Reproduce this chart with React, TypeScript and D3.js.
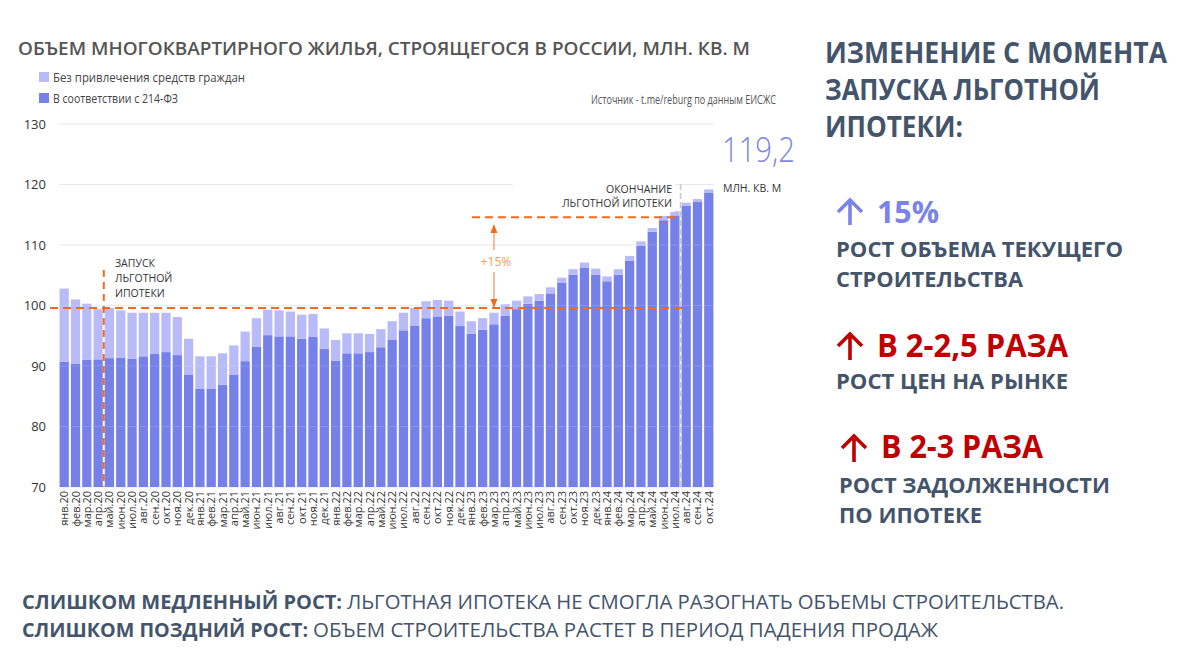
import React from 'react';
import * as d3 from 'd3';

const months = [
    'янв.20', 'фев.20', 'мар.20', 'апр.20', 'май.20', 'июн.20', 'июл.20', 'авг.20', 'сен.20', 'окт.20', 'ноя.20', 'дек.20',
    'янв.21', 'фев.21', 'мар.21', 'апр.21', 'май.21', 'июн.21', 'июл.21', 'авг.21', 'сен.21', 'окт.21', 'ноя.21', 'дек.21',
    'янв.22', 'фев.22', 'мар.22', 'апр.22', 'май.22', 'июн.22', 'июл.22', 'авг.22', 'сен.22', 'окт.22', 'ноя.22', 'дек.22',
    'янв.23', 'фев.23', 'мар.23', 'апр.23', 'май.23', 'июн.23', 'июл.23', 'авг.23', 'сен.23', 'окт.23', 'ноя.23', 'дек.23',
    'янв.24', 'фев.24', 'мар.24', 'апр.24', 'май.24', 'июн.24', 'июл.24', 'авг.24', 'сен.24', 'окт.24'
];

// total volume (both parts), mln sq m
const totalVolume = [
    102.8, 101.0, 100.3, 99.4, 99.6, 99.2, 98.8, 98.8, 98.8, 98.8, 98.1, 94.5,
    91.6, 91.6, 92.1, 93.4, 95.7, 97.9, 99.3, 99.2, 99.0, 98.5, 98.6, 96.2,
    94.3, 95.4, 95.4, 95.3, 96.1, 97.4, 98.8, 99.6, 100.7, 100.9, 100.8, 99.0,
    97.4, 97.9, 98.8, 100.2, 100.8, 101.5, 101.9, 103.0, 104.6, 106.0, 107.1, 106.1,
    104.8, 106.0, 108.2, 110.6, 112.8, 114.8, 115.6, 117.0, 117.6, 119.2
];

// part under 214-ФЗ
const law214 = [
    90.7, 90.4, 91.0, 91.1, 91.3, 91.4, 91.2, 91.6, 92.0, 92.3, 91.8, 88.6,
    86.2, 86.2, 86.9, 88.6, 90.8, 93.2, 95.1, 94.9, 94.9, 94.5, 94.8, 92.8,
    90.9, 92.1, 92.1, 92.3, 93.1, 94.3, 95.9, 96.7, 97.9, 98.2, 98.3, 96.6,
    95.3, 96.0, 96.9, 98.3, 99.4, 100.3, 100.8, 102.0, 103.8, 105.1, 106.2, 105.1,
    104.0, 105.1, 107.4, 109.9, 112.2, 114.1, 114.9, 116.5, 117.1, 118.6
];

const yTicks = [70, 80, 90, 100, 110, 120, 130];

const launchMonth = 'май.20';
const endMonth = 'авг.24';
const arrowMonth = 'мар.23';
const baseLevel = 99.6;
const growthLevel = 114.6;

const DARK = '#7580e8';
const LIGHT = '#b9bbf8';
const ORANGE = '#f26b1d';
const SLATE = '#44546a';
const RED = '#c00000';

const W = 1200;
const H = 662;

// thin up arrow drawn as a path (the glyph in the fonts is too small)
const UpArrow = ({ cx, top, bottom, color }: { cx: number; top: number; bottom: number; color: string }) => (
    <path
        d={`M${cx},${bottom} V${top + 1} M${cx - 12},${top + 12} L${cx},${top} L${cx + 12},${top + 12}`}
        fill="none" stroke={color} strokeWidth={3.6} strokeLinejoin="miter"
    />
);

export default function App() {
    const x = d3.scaleBand<string>()
        .domain(months)
        .range([59, 714])
        .paddingInner(0.18)
        .paddingOuter(0.05);

    const y = d3.scaleLinear().domain([70, 130]).range([487, 124]);

    const bw = x.bandwidth();
    const gap = x.step() - bw;
    const launchX = (x(launchMonth) ?? 0) - gap / 2;
    const endX = (x(endMonth) ?? 0) - gap / 2;
    const arrowX = (x(arrowMonth) ?? 0) + bw / 2;

    const font = '"Open Sans", "Noto Sans", sans-serif';

    return (
        <svg width={W} height={H} style={{ position: 'fixed', left: 0, top: 0, background: '#fff' }} fontFamily={font}>
            <defs>
                <marker id="arr" viewBox="0 0 10 10" refX="9" refY="5" markerWidth="7" markerHeight="7" orient="auto-start-reverse">
                    <path d="M0,1 L10,5 L0,9 Z" fill={ORANGE} />
                </marker>
            </defs>

            {/* title + legend */}
            <text x={18} y={55} fontSize={18.5} fontWeight={600} fill="#555" textLength={732} lengthAdjust="spacingAndGlyphs">
                ОБЪЕМ МНОГОКВАРТИРНОГО ЖИЛЬЯ, СТРОЯЩЕГОСЯ В РОССИИ, МЛН. КВ. М
            </text>
            <rect x={39} y={72} width={10} height={10} fill={LIGHT} />
            <text x={53} y={82} fontSize={13} fill="#444" textLength={192} lengthAdjust="spacingAndGlyphs">Без привлечения средств граждан</text>
            <rect x={39} y={93} width={10} height={10} fill={DARK} />
            <text x={53} y={103} fontSize={13} fill="#444" textLength={125} lengthAdjust="spacingAndGlyphs">В соответствии с 214-ФЗ</text>
            <text x={591} y={104} fontSize={12} fill="#555" textLength={185} lengthAdjust="spacingAndGlyphs">Источник - t.me/reburg по данным ЕИСЖС</text>

            {/* grid + y ticks */}
            {yTicks.map(t => (
                <g key={t}>
                    <line x1={59} x2={714} y1={y(t)} y2={y(t)} stroke="#e6e6e6" strokeWidth={1} />
                    <text x={46} y={y(t) + 4.5} fontSize={13} fill="#333" textAnchor="end">{t}</text>
                </g>
            ))}

            {/* bars */}
            {months.map((m, i) => (
                <g key={m}>
                    <rect x={x(m)} y={y(law214[i])} width={bw} height={y(70) - y(law214[i])} fill={DARK} />
                    <rect x={x(m)} y={y(totalVolume[i])} width={bw} height={y(law214[i]) - y(totalVolume[i])} fill={LIGHT} />
                </g>
            ))}
            {yTicks.slice(1, -1).map(t => (
                <line key={'o' + t} x1={59} x2={714} y1={y(t)} y2={y(t)} stroke="#fff" strokeOpacity={0.15} />
            ))}

            {/* x labels */}
            {months.map(m => (
                <text key={'l' + m} transform={`translate(${(x(m) ?? 0) + bw / 2 + 4},491) rotate(-90)`}
                    fontSize={11} fill="#333" textAnchor="end">{m}</text>
            ))}

            {/* launch annotation */}
            <line x1={launchX} x2={launchX} y1={270} y2={y(70)} stroke={ORANGE} strokeWidth={2} strokeDasharray="7 5" />
            <text x={115} y={267} fontSize={10.5} fill="#333">ЗАПУСК</text>
            <text x={115} y={282} fontSize={10.5} fill="#333">ЛЬГОТНОЙ</text>
            <text x={115} y={297} fontSize={10.5} fill="#333">ИПОТЕКИ</text>
            <line x1={50} x2={683} y1={y(baseLevel)} y2={y(baseLevel)} stroke={ORANGE} strokeWidth={2} strokeDasharray="8 5" />

            {/* end annotation */}
            <rect x={513} y={178} width={162} height={34} fill="#fff" />
            <line x1={endX} x2={endX} y1={184} y2={y(70)} stroke="#c8c8c8" strokeWidth={1.5} strokeDasharray="6 3" />
            <text x={672} y={193} fontSize={10.5} fill="#333" textAnchor="end">ОКОНЧАНИЕ</text>
            <text x={672} y={207} fontSize={10.5} fill="#333" textAnchor="end">ЛЬГОТНОЙ ИПОТЕКИ</text>
            <line x1={472} x2={680} y1={y(growthLevel)} y2={y(growthLevel)} stroke={ORANGE} strokeWidth={2} strokeDasharray="8 5" />

            {/* +15% arrow */}
            <line x1={arrowX} x2={arrowX} y1={y(growthLevel) + 8} y2={250} stroke="#f59a5c" strokeWidth={1.3} markerStart="url(#arr)" />
            <line x1={arrowX} x2={arrowX} y1={272} y2={y(baseLevel) - 1} stroke="#f59a5c" strokeWidth={1.3} markerEnd="url(#arr)" />
            <text x={arrowX + 2} y={266} fontSize={12} fill="#f59a5c" textAnchor="middle">+15%</text>

            {/* last value */}
            <text x={722} y={162} fontSize={34} fontWeight={300} fill="#7d85e6" textLength={73} lengthAdjust="spacingAndGlyphs">119,2</text>
            <text x={723} y={192} fontSize={10.5} fill="#333">МЛН. КВ. М</text>

            {/* right panel */}
            <g fontWeight={700}>
                <text x={825} y={63} fontSize={28} fill={SLATE} textLength={342} lengthAdjust="spacingAndGlyphs">ИЗМЕНЕНИЕ С МОМЕНТА</text>
                <text x={825} y={100} fontSize={28} fill={SLATE} textLength={275} lengthAdjust="spacingAndGlyphs">ЗАПУСКА ЛЬГОТНОЙ</text>
                <text x={825} y={137} fontSize={28} fill={SLATE} textLength={138} lengthAdjust="spacingAndGlyphs">ИПОТЕКИ:</text>

                <UpArrow cx={850} top={200} bottom={225} color="#7b83eb" />
                <text x={877} y={223} fontSize={30} fill="#7b83eb" textLength={62} lengthAdjust="spacingAndGlyphs">15%</text>
                <text x={836} y={257} fontSize={22} fill={SLATE} textLength={287} lengthAdjust="spacingAndGlyphs">РОСТ ОБЪЕМА ТЕКУЩЕГО</text>
                <text x={836} y={287} fontSize={22} fill={SLATE} textLength={187} lengthAdjust="spacingAndGlyphs">СТРОИТЕЛЬСТВА</text>

                <UpArrow cx={850} top={334} bottom={360} color={RED} />
                <text x={877} y={357} fontSize={32} fill={RED} textLength={191} lengthAdjust="spacingAndGlyphs">В 2-2,5 РАЗА</text>
                <text x={836} y={389} fontSize={22} fill={SLATE} textLength={232} lengthAdjust="spacingAndGlyphs">РОСТ ЦЕН НА РЫНКЕ</text>

                <UpArrow cx={854} top={436} bottom={462} color={RED} />
                <text x={881} y={458} fontSize={32} fill={RED} textLength={162} lengthAdjust="spacingAndGlyphs">В 2-3 РАЗА</text>
                <text x={839} y={493} fontSize={22} fill={SLATE} textLength={271} lengthAdjust="spacingAndGlyphs">РОСТ ЗАДОЛЖЕННОСТИ</text>
                <text x={839} y={523} fontSize={22} fill={SLATE} textLength={143} lengthAdjust="spacingAndGlyphs">ПО ИПОТЕКЕ</text>
            </g>

            {/* conclusions */}
            <text x={22} y={609} fontSize={20} fontWeight={700} fill={SLATE} textLength={320} lengthAdjust="spacingAndGlyphs">СЛИШКОМ МЕДЛЕННЫЙ РОСТ:</text>
            <text x={347} y={609} fontSize={20} fill={SLATE} textLength={717} lengthAdjust="spacingAndGlyphs">ЛЬГОТНАЯ ИПОТЕКА НЕ СМОГЛА РАЗОГНАТЬ ОБЪЕМЫ СТРОИТЕЛЬСТВА.</text>
            <text x={22} y={637} fontSize={20} fontWeight={700} fill={SLATE} textLength={286} lengthAdjust="spacingAndGlyphs">СЛИШКОМ ПОЗДНИЙ РОСТ:</text>
            <text x={313} y={637} fontSize={20} fill={SLATE} textLength={625} lengthAdjust="spacingAndGlyphs">ОБЪЕМ СТРОИТЕЛЬСТВА РАСТЕТ В ПЕРИОД ПАДЕНИЯ ПРОДАЖ</text>
        </svg>
    );
}
